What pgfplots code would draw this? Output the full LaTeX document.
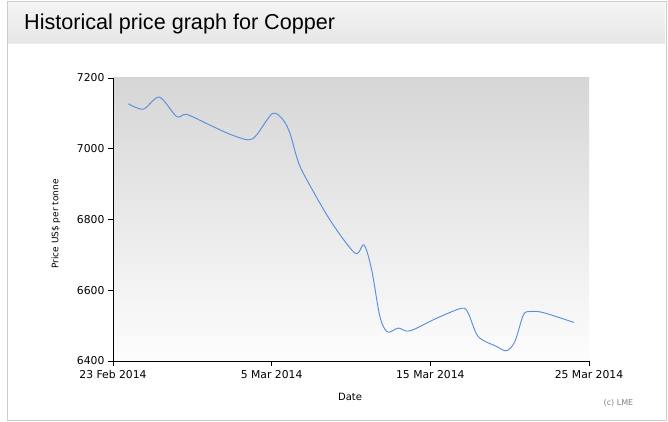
\documentclass[border=0pt]{standalone}
\usepackage{fontspec}
\setmainfont{DejaVu Sans}
\newfontfamily\titlefont{Liberation Sans}
\usepackage{pgfplots}
\pgfplotsset{compat=1.18}
\definecolor{framegray}{RGB}{205,205,205}
\definecolor{bartop}{RGB}{244,244,244}
\definecolor{barbot}{RGB}{230,230,230}
\definecolor{bgtop}{RGB}{214,214,214}
\definecolor{bgbot}{RGB}{253,253,253}
\definecolor{linecol}{RGB}{90,143,220}
\definecolor{lmegray}{RGB}{130,130,130}
\begin{document}
\begin{tikzpicture}
\path[use as bounding box] (0pt,0pt) rectangle (668pt,422pt);
\fill[white] (0pt,0pt) rectangle (668pt,422pt);
\draw[framegray, line width=1pt] (7pt,1.5pt) rectangle (666pt,420pt);
\shade[top color=bartop, bottom color=barbot] (8pt,379pt) rectangle (665pt,419pt);
\draw[white!92!black, line width=0.6pt] (8pt,379pt) -- (665pt,379pt);
\node[anchor=base west, inner sep=0pt, font=\titlefont\fontsize{21.6}{24}\selectfont] at (24pt,392.7pt) {Historical price graph for Copper};
\begin{axis}[
  at={(113pt,61pt)}, anchor=south west,
  scale only axis, width=476pt, height=283pt,
  xmin=0, xmax=30, ymin=6400, ymax=7200,
  axis x line*=bottom, axis y line*=left,
  axis line style={black, line width=0.8pt, -},
  tick style={black, line width=0.8pt},
  tick align=outside, major tick length=5pt,
  xtick={0,10,20,30},
  xticklabels={23 Feb 2014, 5 Mar 2014, 15 Mar 2014, 25 Mar 2014},
  ytick={6400,6600,6800,7000,7200},
  /pgf/number format/assume math mode=true,
  /pgf/number format/1000 sep={},
  ticklabel style={font=\fontsize{10.8}{12}\selectfont},
  xticklabel style={yshift=-1pt},
  axis background/.style={shade, top color=bgtop, bottom color=bgbot},
]
\addplot[linecol, line width=0.95pt, smooth, no marks] coordinates {
(0.97,7127) (1.91,7112) (2.92,7146) (4.01,7091) (4.64,7097) (6.1,7067)
(7.37,7041) (8.53,7025) (9.05,7039) (10.06,7100) (10.73,7081) (11.15,7044)
(11.57,6978) (11.99,6931) (13.67,6799) (15.25,6705) (15.82,6728) (16.3,6658)
(16.82,6526) (17.29,6482) (17.98,6493) (18.71,6485) (20.4,6521) (21.97,6549)
(22.39,6535) (23.02,6469) (24.18,6441) (24.8,6429) (25.33,6455) (25.86,6530)
(26.28,6540) (27.1,6537) (29.05,6509)
};
\end{axis}
\node[font=\fontsize{10}{12}\selectfont] at (350pt,25pt) {Date};
\node[rotate=90, font=\fontsize{9}{11}\selectfont] at (56pt,198pt) {Price US\$ per tonne};
\node[font=\fontsize{8}{10}\selectfont, text=lmegray] at (618.5pt,19.3pt) {(c) LME};
\end{tikzpicture}
\end{document}
